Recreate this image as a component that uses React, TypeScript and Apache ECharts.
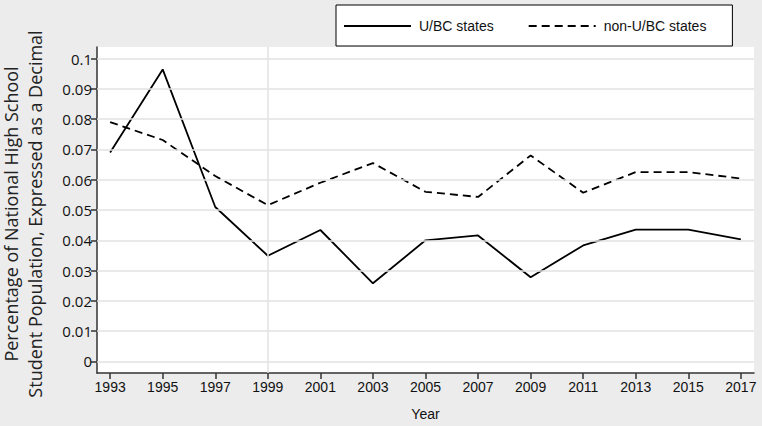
import React, { useEffect, useRef } from "react";
import * as echarts from "echarts";

const years = [1993, 1995, 1997, 1999, 2001, 2003, 2005, 2007, 2009, 2011, 2013, 2015, 2017];
const ubcStates = [0.069, 0.0964, 0.051, 0.0349, 0.0434, 0.0258, 0.04, 0.0416, 0.0278, 0.0383, 0.0435, 0.0435, 0.0403];
const nonUbcStates = [0.079, 0.0731, 0.0612, 0.0516, 0.059, 0.0655, 0.056, 0.0543, 0.068, 0.0557, 0.0625, 0.0625, 0.0604];
const yTicks = [0, 0.01, 0.02, 0.03, 0.04, 0.05, 0.06, 0.07, 0.08, 0.09, 0.1];
const refYear = 1999;
const seriesNames = ["U/BC states", "non-U/BC states"];
const yTitleLines = ["Percentage of National High School", "Student Population, Expressed as a Decimal"];
const xTitle = "Year";

export default function App() {
  const ref = useRef<HTMLDivElement>(null);
  useEffect(() => {
    if (!ref.current) return;
    const chart = echarts.init(ref.current, null, { renderer: "svg" });
    const gridColor = "#e2e2e2";
    chart.setOption({
      animation: false,
      backgroundColor: "#ececec",
      grid: {
        left: 97,
        right: 8,
        top: 47,
        bottom: 48,
        show: true,
        backgroundColor: "#ffffff",
        borderWidth: 0,
      },
      legend: {
        data: seriesNames,
        left: 336,
        top: 5,
        itemWidth: 67,
        itemHeight: 14,
        itemGap: 34,
        padding: [14, 26, 13, 7],
        backgroundColor: "#ffffff",
        borderColor: "#000000",
        borderWidth: 1,
        itemStyle: { opacity: 0 },
        lineStyle: { width: 2 },
        textStyle: { fontFamily: "Liberation Sans", fontSize: 14, color: "#111", padding: [0, 0, 0, 3] },
      },
      xAxis: {
        type: "value",
        min: 1992.5,
        max: 2017.5,
        name: xTitle,
        nameLocation: "middle",
        nameGap: 34,
        nameTextStyle: { fontFamily: "Liberation Sans", fontSize: 14, color: "#111" },
        axisLine: { show: true, onZero: false, lineStyle: { color: "#333", width: 1.5 } },
        axisTick: { show: true, customValues: years, length: 6, lineStyle: { color: "#333", width: 1.5 } },
        axisLabel: {
          customValues: years,
          fontFamily: "Liberation Sans",
          fontSize: 14,
          color: "#111",
          margin: 7,
          formatter: (v: number) => String(Math.round(v)),
        },
        splitLine: { show: false },
      },
      yAxis: {
        type: "value",
        min: -0.0038,
        max: 0.1038,
        axisLine: { show: true, onZero: false, lineStyle: { color: "#333", width: 1.5 } },
        axisTick: { show: true, customValues: yTicks, length: 6, lineStyle: { color: "#333", width: 1.5 } },
        axisLabel: {
          customValues: yTicks,
          fontFamily: "Open Sans",
          fontSize: 15,
          color: "#111",
          margin: 5,
          formatter: (v: number) => String(parseFloat(v.toFixed(2))),
        },
        splitLine: { show: false },
      },
      graphic: [
        {
          type: "text",
          x: 11,
          y: 214,
          rotation: Math.PI / 2,
          style: {
            text: yTitleLines[0],
            align: "center",
            verticalAlign: "middle",
            fontFamily: "Open Sans",
            fontSize: 18,
            fill: "#222",
          },
        },
        {
          type: "text",
          x: 35,
          y: 214,
          rotation: Math.PI / 2,
          style: {
            text: yTitleLines[1],
            align: "center",
            verticalAlign: "middle",
            fontFamily: "Open Sans",
            fontSize: 18,
            fill: "#222",
          },
        },
      ],
      series: [
        {
          type: "line",
          z: 1,
          data: [],
          silent: true,
          markLine: {
            silent: true,
            symbol: "none",
            label: { show: false },
            lineStyle: { color: gridColor, width: 1.5, type: "solid" },
            data: [...yTicks.map((v) => ({ yAxis: v })), { xAxis: refYear }],
          },
        },
        {
          name: seriesNames[0],
          type: "line",
          z: 3,
          symbol: "none",
          data: years.map((y, i) => [y, ubcStates[i]]),
          lineStyle: { color: "#000", width: 1.8, type: "solid" },
          itemStyle: { color: "#000" },
        },
        {
          name: seriesNames[1],
          type: "line",
          z: 3,
          symbol: "none",
          data: years.map((y, i) => [y, nonUbcStates[i]]),
          lineStyle: { color: "#000", width: 1.8, type: [8, 5] },
          itemStyle: { color: "#000" },
        },
      ],
    });
    return () => chart.dispose();
  }, []);
  return <div ref={ref} style={{ position: "absolute", left: 0, top: 0, width: 762, height: 426 }} />;
}
